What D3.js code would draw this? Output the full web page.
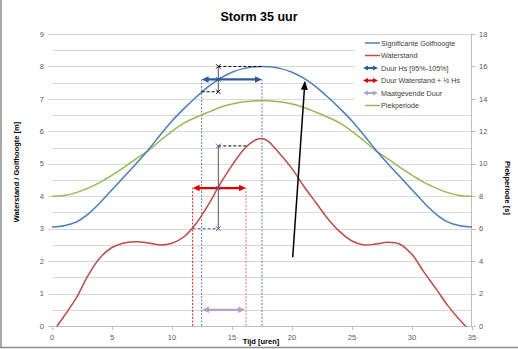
<!DOCTYPE html>
<html><head><meta charset="utf-8">
<script src="https://cdn.jsdelivr.net/npm/d3@7"></script>
<style>body{margin:0;background:#fff}svg{display:block}text{font-family:"Liberation Sans",Arial,sans-serif}</style>
</head><body>
<svg id="c" width="518" height="349"></svg>
<script>
// ---- data ----
const tijd = [0,1,2,3,4,5,6,7,8,9,10,11,12,13,14,15,16,17,17.5,18,19,20,21,22,23,24,25,26,27,28,29,30,31,32,33,34,35];
const golfhoogte = [3.05,3.09,3.2,3.45,3.8,4.2,4.6,5.0,5.42,5.88,6.32,6.7,7.05,7.37,7.63,7.82,7.94,7.99,8.0,7.99,7.94,7.82,7.63,7.37,7.05,6.7,6.32,5.88,5.42,5.0,4.6,4.2,3.8,3.45,3.2,3.09,3.05];
const waterstand = [-0.22,0.3,0.85,1.55,2.1,2.42,2.56,2.6,2.56,2.5,2.55,2.75,3.15,3.72,4.37,4.95,5.45,5.74,5.78,5.7,5.3,4.85,4.3,3.8,3.3,2.9,2.62,2.5,2.53,2.58,2.52,2.2,1.66,1.15,0.62,0.18,-0.2];
const piekperiode = [8.0,8.05,8.22,8.5,8.85,9.3,9.78,10.3,10.8,11.42,12.0,12.5,12.87,13.18,13.47,13.68,13.82,13.88,13.9,13.88,13.82,13.68,13.47,13.18,12.87,12.5,12.0,11.42,10.8,10.3,9.78,9.3,8.85,8.5,8.22,8.05,8.0];

const duurHs = {t:[12.47,17.5], h:7.6};
const duurWaterstand = {t:[11.72,16.17], h:4.25};
const maatgevendeDuur = {t:[12.5,16.1], h:0.5};
const markerT = 13.86;
const markersHs = [8.0,7.6,7.22];
const markersWs = [5.55,4.25,3.0];
const hsMaxRef = {t:[13.86,17.5], h:8.0};
const hsLowRef = {t:[12.47,13.86], h:7.22};
const wsTopRef = {t:[13.86,16.2], h:5.55};
const wsLowRef = {t:[11.72,13.86], h:3.0};
const pijl = {t:[20.06,21.08], h:[2.12,7.56]};

const xTicks = [0,5,10,15,20,25,30,35];
const yLeftTicks = [0,1,2,3,4,5,6,7,8,9];
const yRightTicks = [0,2,4,6,8,10,12,14,16,18];
const legendItems = ["Significante Golfhoogte","Waterstand","Duur Hs [95%-105%]","Duur Waterstand + ½ Hs","Maatgevende Duur","Piekperiode"];

// ---- scales ----
const svg = d3.select("#c");
const x = d3.scaleLinear().domain([0,35]).range([52,472]);
const y = d3.scaleLinear().domain([0,9]).range([326,34]);
const y2 = d3.scaleLinear().domain([0,18]).range([326,34]);

const cBlue="#4a7ebb", cRed="#be4b48", cGreen="#98b954", cPurple="#b3a2c7", cDBlue="#2c5a9c", cBRed="#e00000";

// frame
svg.append("line").attr("x1",1).attr("x2",1).attr("y1",0).attr("y2",348).attr("stroke","#8c8c8c").attr("stroke-width",1.5);
svg.append("line").attr("x1",0).attr("x2",518).attr("y1",347.5).attr("y2",347.5).attr("stroke","#8c8c8c").attr("stroke-width",1.5);

// gridlines
const grid = d3.range(1,19).map(d=>d/2);
svg.append("g").selectAll("line").data(grid).join("line")
  .attr("x1",d=>Number.isInteger(d)?48:52).attr("x2",472)
  .attr("y1",d=>Math.round(y(d))+0.5).attr("y2",d=>Math.round(y(d))+0.5)
  .attr("stroke","#d9d9d9").attr("stroke-width",1);
// x axis
svg.append("line").attr("x1",52).attr("x2",472).attr("y1",326.5).attr("y2",326.5).attr("stroke","#bfbfbf");
svg.append("line").attr("x1",48).attr("x2",52).attr("y1",326.5).attr("y2",326.5).attr("stroke","#bfbfbf");
svg.append("g").selectAll("line").data(xTicks).join("line")
  .attr("x1",d=>Math.round(x(d))+0.5).attr("x2",d=>Math.round(x(d))+0.5).attr("y1",326).attr("y2",330).attr("stroke","#bfbfbf");
svg.append("g").selectAll("text").data(xTicks).join("text")
  .attr("x",d=>x(d)).attr("y",340).attr("text-anchor","middle").attr("font-size",7.5).attr("fill","#595959").text(d=>d);
// left ticks
svg.append("g").selectAll("text").data(yLeftTicks).join("text")
  .attr("x",44).attr("y",d=>y(d)+2.7).attr("text-anchor","end").attr("font-size",7.5).attr("fill","#595959").text(d=>d);
// right axis
svg.append("line").attr("x1",471.5).attr("x2",471.5).attr("y1",34).attr("y2",326.5).attr("stroke","#bfbfbf");
svg.append("g").selectAll("line").data(yRightTicks).join("line")
  .attr("x1",472).attr("x2",476).attr("y1",d=>Math.round(y2(d))+0.5).attr("y2",d=>Math.round(y2(d))+0.5).attr("stroke","#bfbfbf");
svg.append("g").selectAll("text").data(yRightTicks).join("text")
  .attr("x",479).attr("y",d=>y2(d)+2.7).attr("font-size",7.5).attr("fill","#595959").text(d=>d);

// titles
svg.append("text").attr("x",259).attr("y",21).attr("text-anchor","middle").attr("font-size",12.5).attr("font-weight","bold").attr("fill","#000").text("Storm 35 uur");
svg.append("text").attr("x",261).attr("y",344).attr("text-anchor","middle").attr("font-size",7.5).attr("font-weight","bold").attr("fill","#000").text("Tijd [uren]");
svg.append("text").attr("transform","translate(19,172) rotate(-90)").attr("text-anchor","middle").attr("font-size",7.5).attr("font-weight","bold").attr("fill","#000").text("Waterstand / Golfhoogte [m]");
svg.append("text").attr("transform","translate(505,188) rotate(90)").attr("text-anchor","middle").attr("font-size",7.5).attr("font-weight","bold").attr("fill","#000").text("Piekperiode [s]");

// clip
svg.append("clipPath").attr("id","pa").append("rect").attr("x",52).attr("y",34).attr("width",420).attr("height",292.5);
const plot = svg.append("g").attr("clip-path","url(#pa)");

// helper lines
function seg(g,x1,y1,x2,y2,col,w,dash){
  g.append("line").attr("x1",x1).attr("y1",y1).attr("x2",x2).attr("y2",y2).attr("stroke",col).attr("stroke-width",w).attr("stroke-dasharray",dash||null);
}
function head(g,xt,yt,xf,yf,col,len,wid){
  const a=Math.atan2(yt-yf,xt-xf), ca=Math.cos(a), sa=Math.sin(a);
  const bx=xt-len*ca, by=yt-len*sa;
  g.append("path").attr("d",`M${xt},${yt}L${bx-wid/2*sa},${by+wid/2*ca}L${bx+wid/2*sa},${by-wid/2*ca}Z`).attr("fill",col);
}
function dbl(g,x1,x2,yy,col,w,len,wid){
  seg(g,x1+len*0.6,yy,x2-len*0.6,yy,col,w);
  head(g,x1,yy,x2,yy,col,len,wid); head(g,x2,yy,x1,yy,col,len,wid);
}

// vertical dashed duration lines
duurHs.t.forEach(t=>seg(plot,x(t),y(0),x(t),y(duurHs.h),"#4a6fa5",0.9,"2,1.5"));
duurWaterstand.t.forEach((t,i)=>seg(plot,x(t),y(0),x(t),y(duurWaterstand.h),i==0?"#e02020":"#e87070",1,"2,1.5"));

// curves
const line = d3.line().curve(d3.curveCatmullRom.alpha(0.5));
plot.append("path").attr("d",line(tijd.map((t,i)=>[x(t),y2(piekperiode[i])]))).attr("fill","none").attr("stroke",cGreen).attr("stroke-width",1.5);
plot.append("path").attr("d",line(tijd.map((t,i)=>[x(t),y(golfhoogte[i])]))).attr("fill","none").attr("stroke",cBlue).attr("stroke-width",1.5);
plot.append("path").attr("d",line(tijd.map((t,i)=>[x(t),y(waterstand[i])]))).attr("fill","none").attr("stroke",cRed).attr("stroke-width",1.5);

// reference lines
seg(plot,x(markerT),y(markersHs[0]),x(markerT),y(markersHs[2]),"#404040",0.9);
seg(plot,x(markerT),y(markersWs[0]),x(markerT),y(markersWs[2]),"#404040",0.9);
seg(plot,x(hsMaxRef.t[0]),y(hsMaxRef.h),x(hsMaxRef.t[1]),y(hsMaxRef.h),"#000",1,"3,2");
seg(plot,x(hsLowRef.t[0]),y(hsLowRef.h),x(hsLowRef.t[1]),y(hsLowRef.h),"#000",1,"3,2");
seg(plot,x(wsTopRef.t[0]),y(wsTopRef.h),x(wsTopRef.t[1]),y(wsTopRef.h),"#000",1,"3,2");
seg(plot,x(wsLowRef.t[0]),y(wsLowRef.h),x(wsLowRef.t[1]),y(wsLowRef.h),"#4a6fa5",1,"3,2");

// arrows
dbl(plot,x(duurHs.t[0]),x(duurHs.t[1]),y(duurHs.h),cDBlue,2.2,7,6.5);
dbl(plot,x(duurWaterstand.t[0]),x(duurWaterstand.t[1]),y(duurWaterstand.h),cBRed,2.2,7,6.5);
dbl(plot,x(maatgevendeDuur.t[0]),x(maatgevendeDuur.t[1]),y(maatgevendeDuur.h),cPurple,2.2,7,6.5);

// markers
function xm(g,px,py,col){ const s=2.3;
  seg(g,px-s,py-s,px+s,py+s,col,1); seg(g,px-s,py+s,px+s,py-s,col,1); }
markersHs.forEach((h,i)=>xm(plot,x(markerT),y(h),i==1?cDBlue:"#202020"));
markersWs.forEach(h=>xm(plot,x(markerT),y(h),"#4a6fa5"));

// black annotation arrow
{
  const x1=x(pijl.t[0]),y1=y(pijl.h[0]),x2=x(pijl.t[1]),y2p=y(pijl.h[1]);
  const L=Math.hypot(x2-x1,y2p-y1), ux=(x2-x1)/L, uy=(y2p-y1)/L;
  seg(plot,x1,y1,x2-6*ux,y2p-6*uy,"#000",1.5);
  head(plot,x2,y2p,x1,y1,"#000",9,7);
}

// legend
const lg = svg.append("g");
lg.append("rect").attr("x",355).attr("y",35).attr("width",116).attr("height",77).attr("fill","#fff");
const rowsY=[43,55.5,68,80.5,93,105.5];
legendItems.forEach((txt,i)=>{
  const yy=rowsY[i];
  if(i==0) seg(lg,365,yy,380,yy,cBlue,1.5);
  if(i==1) seg(lg,365,yy,380,yy,cRed,1.5);
  if(i==5) seg(lg,365,yy,380,yy,cGreen,1.5);
  if(i==2) dbl(lg,363,378,yy,cDBlue,2,5,5);
  if(i==3) dbl(lg,363,378,yy,cBRed,2,5,5);
  if(i==4) dbl(lg,363,378,yy,cPurple,2,5,5);
  lg.append("text").attr("x",381).attr("y",yy+2.6).attr("font-size",7.2).attr("fill","#404040").text(txt);
});
</script>
</body></html>
